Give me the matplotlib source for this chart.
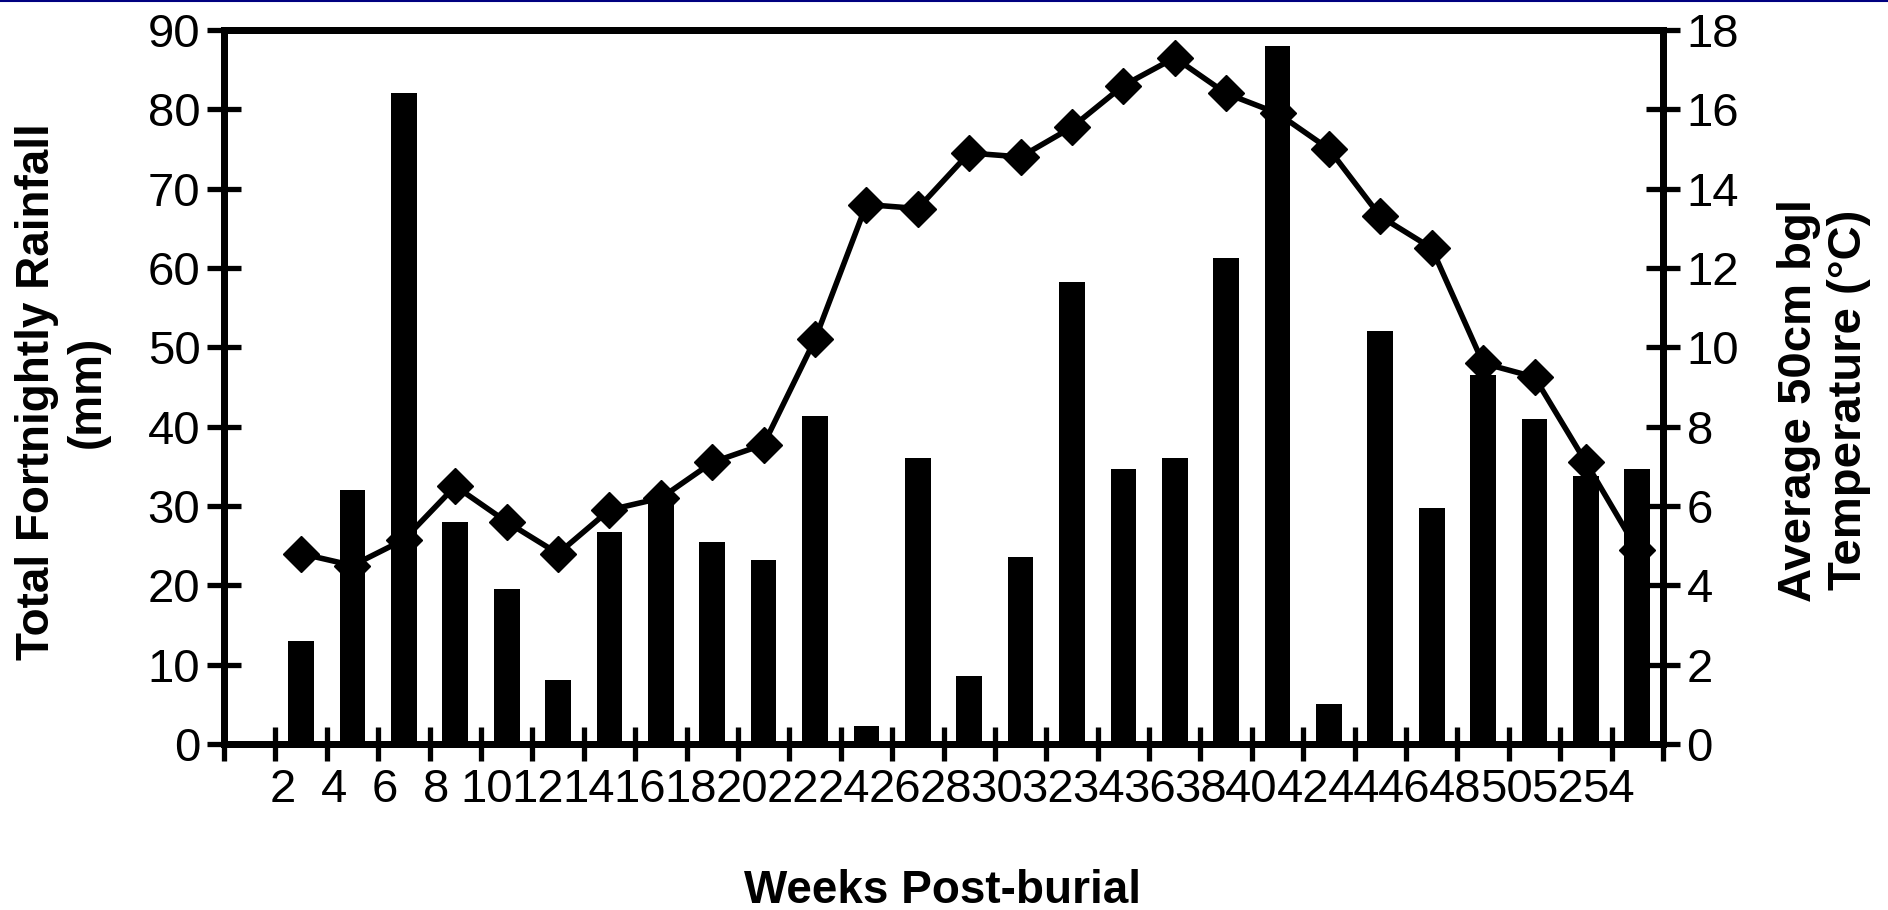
import matplotlib
matplotlib.use('Agg')
import matplotlib.pyplot as plt
from matplotlib.lines import Line2D
import numpy as np

plt.rcParams['font.family'] = ['Liberation Sans', 'DejaVu Sans']

# Semanas pós-enterro (rótulos do eixo x)
semanas = [2, 4, 6, 8, 10, 12, 14, 16, 18, 20, 22, 24, 26, 28, 30,
           32, 34, 36, 38, 40, 42, 44, 46, 48, 50, 52, 54]
# Precipitação quinzenal total (mm)
chuva = [13.0, 32.0, 82.0, 28.0, 19.6, 8.1, 26.7, 31.0, 25.4, 23.2, 41.3,
         2.3, 36.0, 8.6, 23.6, 58.2, 34.7, 36.0, 61.3, 88.0, 5.0, 52.0,
         29.8, 46.5, 41.0, 33.8, 34.7]
# Temperatura média a 50 cm de profundidade (ºC)
temp = [4.8, 4.5, 5.15, 6.5, 5.6, 4.8, 5.9, 6.2, 7.1, 7.55, 10.2, 13.6,
        13.5, 14.9, 14.8, 15.55, 16.6, 17.3, 16.4, 15.9, 15.0, 13.3, 12.5,
        9.6, 9.25, 7.1, 4.9]

n = len(semanas)
x = np.arange(1, n + 1) + 0.5  # centro de cada categoria (a primeira fica vazia)

fig = plt.figure(figsize=(18.88, 9.10), dpi=100)
ax = fig.add_axes([224 / 1888, 1 - 744 / 910, 1439 / 1888, 714 / 910])
ax2 = ax.twinx()

ax.bar(x, chuva, width=0.5, color='black', zorder=3)
ax2.plot(x, temp, color='black', lw=4, marker='D', markersize=18,
         markeredgewidth=1, zorder=4)

ax.set_xlim(0, n + 1)
ax.set_ylim(0, 90)
ax2.set_ylim(0, 18)
ax.set_yticks(np.arange(0, 91, 10))
ax2.set_yticks(np.arange(0, 19, 2))

# Marcas do eixo x nas divisões das categorias, rótulos separados
ax.set_xticks(np.arange(0, n + 2))
ax.set_xticklabels([])
pos_rot = np.linspace(1.15, 26.94, n)
ax.set_xticks(pos_rot, minor=True)
ax.set_xticklabels([str(s) for s in semanas], minor=True)
ax.tick_params(axis='x', which='minor', length=0, pad=17, labelsize=34)
ax.tick_params(axis='x', which='major', direction='inout', length=24, width=3.8)
ax.tick_params(axis='y', direction='inout', length=24, width=3.8,
               labelsize=34, pad=5)
ax2.tick_params(axis='y', direction='inout', length=24, width=3.8,
                labelsize=34, pad=5)

for a in (ax, ax2):
    for s in a.spines.values():
        s.set_linewidth(5)
        s.set_color('black')

fig.text(62 / 1888, 1 - 392 / 910, 'Total Fortnightly Rainfall\n(mm)',
         rotation=90, ha='center', va='center', ma='center',
         fontsize=33, fontweight='bold')
fig.text(1824 / 1888, 1 - 400 / 910, 'Average 50cm bgl\nTemperature (°C)',
         rotation=90, ha='center', va='center', ma='center',
         fontsize=34, fontweight='bold')
fig.text(943 / 1888, 1 - 891 / 910, 'Weeks Post-burial',
         ha='center', va='center', fontsize=33, fontweight='bold')

# fio azul no topo
fig.add_artist(Line2D([0, 1], [0.999, 0.999], transform=fig.transFigure,
                      color='#000080', lw=1.5))

fig.savefig('out.png', dpi=100, facecolor='white')
